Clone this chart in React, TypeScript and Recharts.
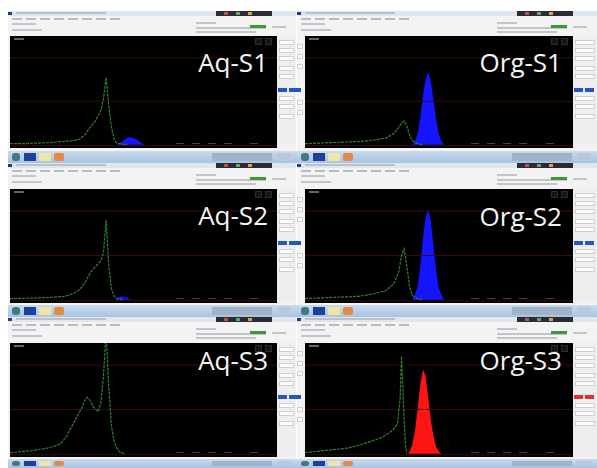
import React from "react";
import { Area, ComposedChart, Line, ReferenceLine, XAxis, YAxis } from "recharts";

// x = position across the spectrum (0-100), y = counts height (% of plot)
const aqS1Green = [[0,1],[5,1],[10,1.5],[15,2],[20,3],[24,4],[26,5],[28,9],[30,16],[32,22],[34,31],[35,42],[36,62],[37,35],[38,16],[39,5],[40,1.5],[42,0.5],[44,0]];
const aqS1Fill = [[40,0],[41,1],[42,3],[43,5],[44,6.5],[45,7],[46,6.5],[47,5.5],[48,4],[49,2],[50,0.5],[51,0]];

const orgS1Green = [[0,1],[10,2],[15,2.5],[20,3],[25,4],[30,6],[33,10],[35,16],[36,20],[37,22],[38,17],[39,9],[40,4],[41,2],[42,1],[44,0]];
const orgS1Fill = [[40,0],[41,3],[42,10],[43,25],[44,45],[45,60],[46,67],[47,58],[48,40],[49,22],[50,9],[51,3],[52,0]];

const aqS2Green = [[0,1],[10,1.5],[15,2],[20,3],[22,4],[24,6],[26,9],[28,15],[30,24],[32,30],[34,35],[35,42],[36,72],[37,30],[38,10],[39,3],[40,1],[42,0]];
const aqS2Fill = [[39,0],[40,1.5],[41,2.5],[42,3],[43,2.5],[44,1.5],[45,0.5],[46,0]];

const orgS2Green = [[0,1],[10,2],[20,3],[25,5],[30,8],[33,14],[35,25],[36,40],[37,46],[38,30],[39,12],[40,4],[42,1],[44,0]];
const orgS2Fill = [[40,0],[41,4],[42,12],[43,30],[44,55],[45,75],[46,82],[47,70],[48,48],[49,26],[50,10],[51,4],[52,0]];

const aqS3Green = [[0,1],[5,2],[9,3],[14,5],[17,7],[19,9],[21,15],[23,24],[25,33],[27,42],[28,48],[29,51],[30,48],[31,43],[32,40],[33,38],[34,45],[35,70],[36,110],[37,60],[38,25],[39,11],[40,5],[41,1.5],[43,0]];
const aqS3Fill: number[][] = [];

const orgS3Green = [[0,1],[8,3],[16,5],[22,9],[28,14],[31,18],[33,22],[34.5,27],[35.5,50],[36,88],[36.5,60],[37,30],[37.5,8],[38,0]];
const orgS3Fill = [[38.5,0],[39,2],[40,8],[41,20],[42,40],[43,62],[44,76],[45,70],[46,50],[47,30],[48,15],[49,6],[50,2],[51,0]];

const gridLevels = [-1, 40, 80];

const toPts = (a: number[][]) => a.map(([x, y]) => ({ x, y }));

function Plot({ w, h, green, fill, fillColor }: { w: number; h: number; green: number[][]; fill: number[][]; fillColor: string }) {
  return (
    <ComposedChart width={w} height={h} margin={{ top: 0, right: 0, bottom: 0, left: 0 }} style={{ background: "#000" }}>
      <XAxis type="number" dataKey="x" domain={[0, 100]} hide />
      <YAxis type="number" domain={[-3, 100]} hide allowDataOverflow />
      {gridLevels.map(v => (
        <ReferenceLine key={v} y={v} stroke="#3a0c0c" strokeWidth={1} />
      ))}
      <Area data={toPts(fill)} dataKey="y" type="linear" stroke="none" fill={fillColor} fillOpacity={1} isAnimationActive={false} />
      <Line data={toPts(green)} dataKey="y" type="linear" stroke="#2f802f" strokeWidth={1.2} strokeDasharray="3 1" dot={false} isAnimationActive={false} />
    </ComposedChart>
  );
}

const abs = (x: number, y: number, w: number, h: number, bg: string, extra: React.CSSProperties = {}): React.CSSProperties => ({
  position: "absolute", left: x, top: y, width: w, height: h, background: bg, ...extra,
});

function Taskbar({ y, h }: { y: number; h: number }) {
  const side = (x0: number, w: number) => (
    <div style={abs(x0, y, w, h, "linear-gradient(#c9dbee, #a9c3e0)")}>
      <div style={abs(4, 2, 8, h - 4, "#3f7a86", { borderRadius: 3 })} />
      <div style={abs(16, 2, 12, h - 4, "#1d3f9e")} />
      <div style={abs(31, 2, 12, h - 4, "#efe6a6")} />
      <div style={abs(46, 2, 10, h - 4, "#e58a46", { borderRadius: 2 })} />
      <div style={abs(w - 85, 2, 60, h - 4, "#9fb3c9")} />
      <div style={abs(w - 20, 2, 14, h - 4, "#b9c9da")} />
    </div>
  );
  return (
    <>
      {side(8, 289)}
      {side(297, 300)}
    </>
  );
}

function Window({
  x, top, plotTop, plotW, plotH, label, labelBase, labelRight, green, fill, fillColor, btn,
}: {
  x: number; top: number; plotTop: number; plotW: number; plotH: number; label: string; labelBase: number;
  labelRight: number; green: number[][]; fill: number[][]; fillColor: string; btn: string;
}) {
  const isLeft = x < 200;
  const plotX = x + (isLeft ? 2 : 8);
  const sideX = plotX + plotW;
  const winW = isLeft ? 288 : 300;
  return (
    <>
      {/* window body */}
      <div style={abs(x, top, winW, plotTop + plotH + 3 - top, "#f3f3f3")} />
      {!isLeft && (
        <>
          {[44, 54, 64, 100, 110].map(yy => (
            <div key={yy} style={abs(x, plotTop + yy - 36, 6, 5, "#fafafa", { border: "1px solid #d0d0d0", boxSizing: "border-box" })} />
          ))}
          <div style={abs(x, plotTop + 52, 4, 4, "#2255cc")} />
        </>
      )}
      {/* title bar */}
      <div style={abs(x, top, winW, 5, "#dfe6ee")} />
      <div style={abs(x, top + 1, 4, 3, "#1f3d8a")} />
      <div style={abs(x + 8, top + 1, 90, 2, "#b9c2cc")} />
      <div style={abs(x + winW - 80, top, 56, 5, "#2a2a38")} />
      <div style={abs(x + winW - 72, top + 1, 4, 3, "#c0504d")} />
      <div style={abs(x + winW - 60, top + 1, 4, 3, "#6aa84f")} />
      <div style={abs(x + winW - 48, top + 1, 4, 3, "#e0a040")} />
      {/* menu */}
      {[0, 1, 2, 3, 4, 5, 6, 7].map(i => (
        <div key={i} style={abs(x + 4 + i * 14, top + 7, 10, 2, "#b7bcc3")} />
      ))}
      {/* toolbar */}
      <div style={abs(x + 4, top + 12, 24, 2, "#c2c6cc")} />
      <div style={abs(x + 4, top + 18, 30, 2, "#c2c6cc")} />
      <div style={abs(x + winW - 100, top + 11, 20, 2, "#c2c6cc")} />
      <div style={abs(x + winW - 100, top + 16, 70, 2, "#c2c6cc")} />
      <div style={abs(x + winW - 100, top + 20, 60, 2, "#c2c6cc")} />
      <div style={abs(x + winW - 46, top + 14, 16, 3, "#3a9a3a")} />
      <div style={abs(x + winW - 24, top + 15, 14, 2, "#c2c6cc")} />
      {/* side panel */}
      <div style={abs(sideX, plotTop, x + winW - sideX, plotH, "#eeeeee")}>
        {[4, 12, 20, 30, 38, 60, 68, 78].map(yy => (
          <div key={yy} style={abs(2, yy, x + winW - sideX - 4, 5, "#fafafa", { border: "1px solid #d0d0d0", boxSizing: "border-box" })} />
        ))}
        <div style={abs(1, 52, 9, 4, btn)} />
        <div style={abs(12, 52, 9, 4, btn)} />
      </div>
      {/* plot */}
      <div style={abs(plotX, plotTop, plotW, plotH, "#000")}>
        <Plot w={plotW} h={plotH} green={green} fill={fill} fillColor={fillColor} />
        <div style={abs(4, 2, 10, 2, "#666")} />
        <div style={abs(plotW - 22, 2, 5, 5, "#151515", { border: "1px solid #2c2c2c" })} />
        <div style={abs(plotW - 12, 2, 5, 5, "#151515", { border: "1px solid #2c2c2c" })} />
        {[0.62, 0.68, 0.74, 0.8, 0.9].map(f => (
          <div key={f} style={abs(plotW * f, plotH - 5, 8, 1, "#444")} />
        ))}
        <div
          style={{
            position: "absolute", right: labelRight, top: labelBase - 23, fontFamily: "'Open Sans', sans-serif",
            fontSize: 26, lineHeight: "26px", color: "#f4f4f4", whiteSpace: "nowrap",
          }}
        >
          {label}
        </div>
      </div>
    </>
  );
}

export default function App() {
  return (
    <div style={{ position: "absolute", left: 0, top: 0, width: 597, height: 468, background: "#fff", overflow: "hidden" }}>
      <Window x={8} top={11} plotTop={36} plotW={267} plotH={112} label="Aq-S1" labelBase={36} labelRight={9} green={aqS1Green} fill={aqS1Fill} fillColor="#1414ff" btn="#2255cc" />
      <Window x={297} top={11} plotTop={36} plotW={268} plotH={112} label="Org-S1" labelBase={36} labelRight={11} green={orgS1Green} fill={orgS1Fill} fillColor="#1414ff" btn="#2255cc" />
      <Taskbar y={151} h={12} />
      <Window x={8} top={163} plotTop={189} plotW={267} plotH={114} label="Aq-S2" labelBase={36} labelRight={9} green={aqS2Green} fill={aqS2Fill} fillColor="#1414ff" btn="#2255cc" />
      <Window x={297} top={163} plotTop={189} plotW={268} plotH={114} label="Org-S2" labelBase={37} labelRight={11} green={orgS2Green} fill={orgS2Fill} fillColor="#1414ff" btn="#2255cc" />
      <Taskbar y={305} h={12} />
      <Window x={8} top={317} plotTop={343} plotW={267} plotH={114} label="Aq-S3" labelBase={27} labelRight={9} green={aqS3Green} fill={aqS3Fill} fillColor="#1414ff" btn="#2255cc" />
      <Window x={297} top={317} plotTop={343} plotW={268} plotH={114} label="Org-S3" labelBase={27} labelRight={11} green={orgS3Green} fill={orgS3Fill} fillColor="#ff1414" btn="#e03030" />
      <Taskbar y={459} h={9} />
    </div>
  );
}
